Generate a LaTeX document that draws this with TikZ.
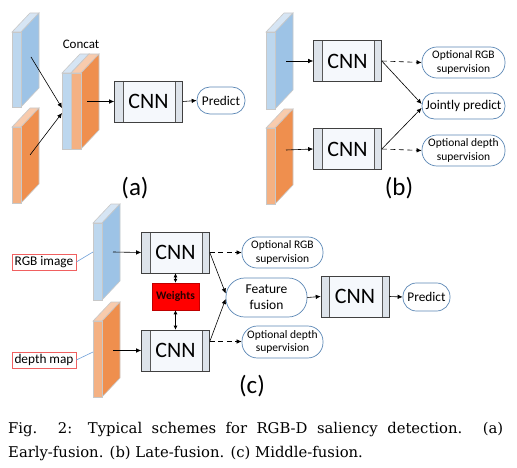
\documentclass[tikz,border=0pt]{standalone}
\usepackage{fontspec}
\newfontfamily\calib{Carlito}
\newfontfamily\capfont{DejaVu Serif}
\usetikzlibrary{arrows.meta}
\definecolor{bfront}{HTML}{BDD7EE}
\definecolor{bside}{HTML}{9DC3E6}
\definecolor{btop}{HTML}{D6E5F4}
\definecolor{ofront}{HTML}{F4B183}
\definecolor{oside}{HTML}{EF8F4E}
\definecolor{otop}{HTML}{F8CBAD}
\definecolor{slabedge}{HTML}{C8C8C8}
\definecolor{ellblue}{HTML}{5B87B5}
\definecolor{cnnfill}{HTML}{F5F8FC}
\definecolor{cnnstrip}{HTML}{DDE3EA}
\definecolor{lblred}{HTML}{F06060}
\definecolor{lblline}{HTML}{6FA0D8}
\newcommand{\myslab}[7]{%
  \filldraw[slabline, fill=#7] (#1,#2) -- (#1+18,#2-19) -- (#1+#4+18,#2-19) -- (#1+#4,#2) -- cycle;
  \filldraw[slabline, fill=#6] (#1+#4,#2) -- (#1+#4+18,#2-19) -- (#1+#4+18,#2+#3-19) -- (#1+#4,#2+#3) -- cycle;
  \filldraw[slabline, fill=#5] (#1,#2) rectangle (#1+#4,#2+#3);
}
\begin{document}
\begin{tikzpicture}[x=1pt,y=-1pt,
  slabline/.style={draw=slabedge, line width=0.6pt},
  arr/.style={-{Latex[length=5pt,width=4.5pt]}, line width=0.6pt, black},
  darr/.style={arr, dash pattern=on 5pt off 3.5pt},
  warr/.style={{Latex[length=4pt,width=4pt]}-{Latex[length=4pt,width=4pt]}, line width=0.6pt},
  cnn/.style={draw=black!75, line width=0.6pt, fill=cnnfill, inner sep=0pt,
    minimum width=68pt, minimum height=41pt, font=\calib\fontsize{22}{24}\selectfont,
    path picture={
      \fill[cnnstrip] (path picture bounding box.north west) rectangle ([xshift=8.5pt]path picture bounding box.south west);
      \fill[cnnstrip] ([xshift=-7pt]path picture bounding box.north east) rectangle (path picture bounding box.south east);
      \draw[black!65, line width=0.6pt] ([xshift=8.5pt]path picture bounding box.north west) -- ([xshift=8.5pt]path picture bounding box.south west);
      \draw[black!65, line width=0.6pt] ([xshift=-7pt]path picture bounding box.north east) -- ([xshift=-7pt]path picture bounding box.south east);
    }},
  stad/.style 2 args={draw=ellblue, line width=0.7pt, fill=white, inner sep=0pt, align=center,
    minimum width=#1pt, minimum height=#2pt, rounded corners=#2*0.48pt},
  small/.style={font=\calib\fontsize{11.5}{13.5}\selectfont},
  mid/.style={font=\calib\fontsize{13.3}{16}\selectfont},
  panel/.style={font=\calib\fontsize{25}{28}\selectfont, inner sep=0pt},
  lbl/.style={draw=lblred, line width=0.6pt, fill=white, inner sep=0pt,
    minimum width=64pt, minimum height=16pt, font=\calib\fontsize{13.3}{15}\selectfont},
  lblconn/.style={draw=lblline, line width=0.6pt},
  captext/.style={anchor=base west, inner sep=0pt, font=\capfont\fontsize{14.8}{17}\selectfont}
]
\useasboundingbox (0,0) rectangle (517,468);

% ---------------- (a) ----------------
\myslab{12}{32}{75}{9}{bfront}{bside}{btop}
\myslab{12}{127}{76}{9}{ofront}{oside}{otop}
\myslab{62}{73}{76}{9}{bfront}{bside}{btop}
\myslab{71}{73}{76}{10}{ofront}{oside}{otop}
\coordinate (sa1) at (31,57);
\coordinate (sa2) at (30,155);
\coordinate (ca1) at (62,108);
\coordinate (ca2) at (62,113);
\coordinate (cc) at (87,101.5);
\node[font=\calib\fontsize{13}{15}\selectfont] (concat) at (81,44) {Concat};
\node[cnn] (cnnA) at (148.5,101.5) {CNN};
\node[stad={48}{27}, mid] (predA) at (221,100.5) {Predict};
\draw[arr] (sa1) -- (ca1);
\draw[arr] (sa2) -- (ca2);
\draw[arr] (cc) -- (cnnA.west);
\draw[arr] (cnnA.east) -- (predA.west);
\node[panel] (la) at (135,188) {(a)};

% ---------------- (b) ----------------
\myslab{266}{32}{77}{9}{bfront}{bside}{btop}
\myslab{266}{128}{76}{9}{ofront}{oside}{otop}
\coordinate (sb1) at (286,61);
\coordinate (sb2) at (286,150);
\node[cnn] (cnnB1) at (347.5,61) {CNN};
\node[cnn] (cnnB2) at (347.5,149) {CNN};
\node[stad={83}{31}, small] (optB1) at (463.5,62.5) {Optional RGB\\supervision};
\node[stad={83}{26}, mid] (joint) at (463.5,106) {Jointly predict};
\node[stad={83}{31}, small] (optB2) at (463.5,150.5) {Optional depth\\supervision};
\draw[arr] (sb1) -- (cnnB1.west);
\draw[arr] (sb2) -- (cnnB2.west);
\draw[darr] (cnnB1.east) -- (optB1.west);
\draw[darr] (cnnB2.east) -- (optB2.west);
\draw[arr] (cnnB1.east) -- ([yshift=2pt]joint.west);
\draw[arr] (cnnB2.east) -- ([yshift=-2pt]joint.west);
\node[panel] (lb) at (399,188) {(b)};

% ---------------- (c) ----------------
\myslab{93}{223}{77}{9}{bfront}{bside}{btop}
\myslab{93}{321}{76}{9}{ofront}{oside}{otop}
\coordinate (sc1) at (113,252);
\coordinate (sc2) at (113,350.5);
\coordinate (lc1) at (93,252);
\coordinate (lc2) at (93,352);
\node[lbl] (rgb) at (44,262) {RGB image};
\node[lbl] (dep) at (44,360) {depth map};
\draw[lblconn] (rgb.east) -- (lc1);
\draw[lblconn] (dep.east) -- (lc2);
\node[cnn] (cnnC1) at (175.5,252.5) {CNN};
\node[cnn] (cnnC2) at (175.5,350.5) {CNN};
\node[fill=red, draw=red!75!black, line width=0.5pt, minimum width=47pt, minimum height=27pt, inner sep=0pt,
  font=\calib\bfseries\fontsize{11.5}{13}\selectfont, text=black!85!red] (w) at (175.5,296.5) {Weights};
\draw[warr] (cnnC1.south) -- (w.north);
\draw[warr] (w.south) -- (cnnC2.north);
\node[stad={81}{31}, small] (optC1) at (282.5,252.5) {Optional RGB\\supervision};
\node[stad={81}{39}, font=\calib\fontsize{13.5}{16}\selectfont] (ff) at (266.5,297.5) {Feature\\fusion};
\node[stad={81}{32}, small] (optC2) at (282.5,342) {Optional depth\\supervision};
\node[cnn] (cnnC3) at (355,296.5) {CNN};
\node[stad={47}{28}, mid] (predC) at (426.5,297) {Predict};
\coordinate (c2out) at ([yshift=9pt]cnnC2.east);
\draw[arr] (sc1) -- (cnnC1.west);
\draw[arr] (sc2) -- (cnnC2.west);
\draw[darr] (cnnC1.east) -- (optC1.west);
\draw[darr] (c2out) -- (c2out -| optC2.west);
\draw[arr] (cnnC1.east) -- ([yshift=4pt]ff.west);
\draw[arr] (c2out) -- ([yshift=-1.5pt]ff.west);
\draw[arr] (ff.east) -- (cnnC3.west);
\draw[arr] (cnnC3.east) -- (predC.west);
\node[panel] (lc) at (252,386) {(c)};

% ---------------- caption ----------------
\node[captext] (cap1) at (8,433)
  {\makebox[495pt][s]{Fig. 2: Typical schemes for RGB-D saliency detection. (a)}};
\node[captext] (cap2) at (8,457)
  {Early-fusion. (b) Late-fusion. (c) Middle-fusion.};
\end{tikzpicture}
\end{document}
